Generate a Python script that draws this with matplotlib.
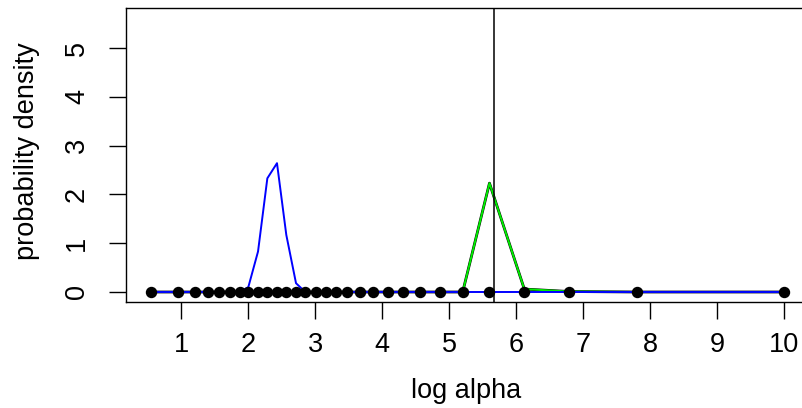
# density curves over a grid of log alpha values
import numpy as np
import matplotlib
matplotlib.use("Agg")
import matplotlib.pyplot as plt

plt.rcParams['font.family'] = ['Liberation Sans', 'DejaVu Sans']

# grid of log alpha values
log_alpha = [0.55, 0.95, 1.20, 1.40, 1.56, 1.72, 1.87, 2.00, 2.145, 2.284, 2.428,
             2.567, 2.712, 2.851, 3.004, 3.16, 3.31, 3.47, 3.67, 3.86, 4.08,
             4.31, 4.567, 4.866, 5.20, 5.60, 6.12, 6.787, 7.80, 9.99]
# blue curve
dens_blue = [0, 0, 0, 0, 0, 0, 0, 0.1, 0.83, 2.33, 2.64, 1.17, 0.18, 0, 0, 0,
             0, 0, 0, 0, 0, 0, 0, 0, 0, 0, 0, 0, 0, 0]
# green curve
dens_green = [0, 0, 0, 0, 0, 0, 0, 0, 0, 0, 0, 0, 0, 0, 0, 0, 0, 0, 0, 0, 0,
              0, 0, 0, 0, 2.23, 0.06, 0.01, 0, 0]
vline_x = 5.67

fig = plt.figure(figsize=(8.02, 4.08), dpi=100)
ax = fig.add_axes([126 / 802, 1 - 302 / 408, (809 - 126) / 802, (302 - 8) / 408])

ax.plot(log_alpha, dens_green, color='black', lw=2.0, zorder=2)
ax.plot(log_alpha, dens_green, color='#00ee00', lw=1.4, zorder=3)
ax.plot(log_alpha, dens_blue, color='blue', lw=1.4, zorder=4)
ax.plot(log_alpha, np.zeros(len(log_alpha)), 'o', color='black', ms=7.2, zorder=5)
ax.axvline(vline_x, color='black', lw=1.1, zorder=6)

ax.set_xlim(0.174, 10.37)
ax.set_ylim(-0.205, 5.82)
ax.set_xticks(range(1, 11))
ax.set_yticks(range(0, 6))
ax.set_yticklabels([str(v) for v in range(0, 6)], rotation=90, va='center', ha='center')
ax.tick_params(length=12.3, width=1, labelsize=19.5)
ax.tick_params(axis='x', pad=9)
ax.tick_params(axis='y', pad=23)
ax.spines['right'].set_visible(False)
for s in ['left', 'top', 'bottom']:
    ax.spines[s].set_linewidth(1)

ax.set_xlabel('log alpha', fontsize=19.5, va='center')
ax.xaxis.set_label_coords((466 - 126) / 683, (302 - 391) / 294)
ax.set_ylabel('probability density', fontsize=19.5, va='center')
ax.yaxis.set_label_coords((27 - 126) / 683, (302 - 151) / 294)

fig.savefig('out.png', dpi=100)
